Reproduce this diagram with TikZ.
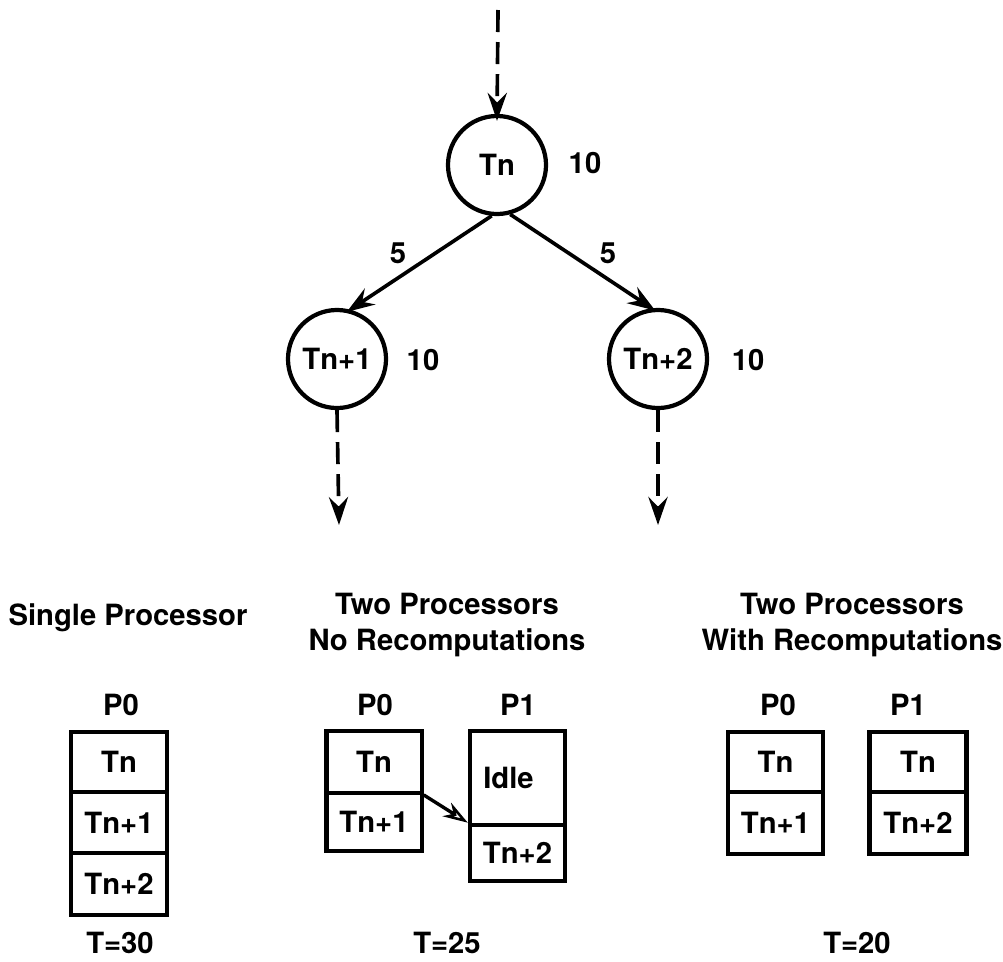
\documentclass[tikz,border=0pt]{standalone}
\usepackage{fontspec}
\setmainfont{TeX Gyre Heros}
\usetikzlibrary{arrows.meta}
\begin{document}
\begin{tikzpicture}[x=0.025cm,y=-0.025cm,
  font=\fontsize{20.8}{25}\selectfont\bfseries,
  task/.style={draw,circle,line width=3pt,minimum size=2.45cm,inner sep=0pt},
  cell/.style={draw,rectangle,line width=3pt,inner sep=0pt,minimum width=2.38cm},
  txt/.style={inner sep=0pt},
  flow/.style={line width=2.6pt,-{Stealth[length=0.7cm,width=0.48cm,inset=0.24cm]}},
  cont/.style={flow,dash pattern=on 0.55cm off 0.25cm},
  comm/.style={line width=2.4pt,-{Stealth[open,length=0.62cm,width=0.4cm,inset=0.2cm,line width=1.8pt]}}]
\useasboundingbox (0,0) rectangle (1003,961);

% task graph
\node[task] (tn)  at (497,165) {Tn};
\node[task] (tn1) at (337,359) {Tn+1};
\node[task] (tn2) at (658,359) {Tn+2};
\node[txt] (c0) at (585,163) {10};
\node[txt] (c1) at (423,360) {10};
\node[txt] (c2) at (748,360) {10};
\node[txt] (w1) at (398,253) {5};
\node[txt] (w2) at (608,253) {5};

\coordinate (in)   at (498,10);
\coordinate (out1) at (339,525);
\coordinate (out2) at (658,525);

\draw[cont] (in) -- ([yshift=-5pt]tn.north);
\draw[flow,shorten >=-3pt] (tn.-96) -- (tn1.75);
\draw[flow,shorten >=-3pt] (tn.-75) -- (tn2.97);
\draw[cont] (tn1.south) -- (out1);
\draw[cont] (tn2.south) -- (out2);

% single processor schedule
\node[txt] (h1) at (128,618) {Single Processor};
\node[txt] (sp) at (121,705) {P0};
\node[cell,minimum height=1.51cm]  (s1) at (119,762)   {Tn};
\node[cell,minimum height=1.525cm] (s2) at (119,822.5) {Tn+1};
\node[cell,minimum height=1.56cm]  (s3) at (119,884)   {Tn+2};
\node[txt] (t1) at (120,943) {T=30};

% two processors, no recomputation
\node[txt,align=center] (h2) at (447,625) {Two Processors\\No Recomputations};
\node[txt] (mp0) at (375,705) {P0};
\node[txt] (mp1) at (518,705) {P1};
\node[cell,minimum height=1.54cm] (m0a) at (374,762) {Tn};
\node[cell,minimum height=1.46cm] (m0b) at (374,822) {Tn+1};
\node[cell,minimum height=2.34cm] (m1a) at (517.5,778) {Idle\hspace*{0.45cm}};
\node[cell,minimum height=1.41cm] (m1b) at (517.5,853) {Tn+2};
\node[txt] (t2) at (447,943) {T=25};
\draw[comm] (m0a.south east) -- (m1b.north west);

% two processors, with recomputation
\node[txt,align=center] (h3) at (852,625) {Two Processors\\With Recomputations};
\node[txt] (rp0) at (778,705) {P0};
\node[txt] (rp1) at (908,705) {P1};
\node[cell,minimum height=1.51cm]  (r0a) at (775.5,762) {Tn};
\node[cell,minimum height=1.54cm]  (r0b) at (775.5,823) {Tn+1};
\node[cell,minimum height=1.51cm,minimum width=2.42cm]  (r1a) at (918,762) {Tn};
\node[cell,minimum height=1.54cm,minimum width=2.42cm]  (r1b) at (918,823) {Tn+2};
\node[txt] (t3) at (857,943) {T=20};
\end{tikzpicture}
\end{document}
